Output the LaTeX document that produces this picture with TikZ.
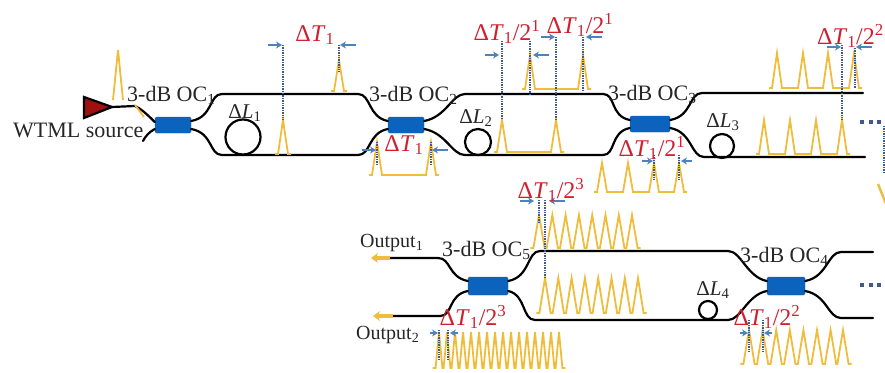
\documentclass[tikz,border=0pt]{standalone}
\usepackage{fontspec}
\setmainfont{Liberation Serif}
\usetikzlibrary{arrows.meta, positioning, calc}
\definecolor{ocblue}{HTML}{0B63BD}
\definecolor{pulseyel}{HTML}{F0BC3C}
\definecolor{gapblue}{HTML}{4F81BD}
\definecolor{dotblue}{HTML}{3F5A8C}
\definecolor{labred}{HTML}{D0202E}
\definecolor{srcred}{HTML}{A01010}
\newcommand{\dT}[1]{Δ\textit{T}\textsubscript{1}/2\textsuperscript{#1}}
\newcommand{\pulses}[6]{\draw[pulse] (#2-#6-3,#5) foreach \x in {#1} {-- (\x-#6,#5) -- (\x,#4) -- (\x+#6,#5)} -- (#3+#6+3,#5);}
\newcommand{\gaparrows}[3]{\draw[gaparrow] (#1-15,#3) -- (#1-1,#3); \draw[gaparrow] (#2+17,#3) -- (#2+1,#3);}
\begin{document}
\begin{tikzpicture}[x=1pt,y=-1pt,
    fiber/.style={line width=2.2pt, black, line cap=round},
    loopfiber/.style={draw=black, line width=2.2pt, circle, inner sep=0pt},
    oc/.style={draw=ocblue, fill=ocblue, rounded corners=1.5pt, minimum width=36pt, minimum height=16pt, inner sep=0pt},
    pulse/.style={pulseyel, line width=1.8pt, line join=miter},
    gaparrow/.style={gapblue, line width=1.3pt, -{Stealth[length=6pt,width=7pt]}},
    gapdots/.style={dotblue, line width=1.4pt, densely dotted},
    dotsrow/.style={dotblue, line width=3.5pt, dash pattern=on 4pt off 4.5pt},
    oclabel/.style={font=\fontsize{22}{24}\selectfont, inner sep=0pt, text=black!85},
    dellabel/.style={font=\fontsize{21}{23}\selectfont, inner sep=0pt, text=black!85},
    outlabel/.style={font=\fontsize{20}{22}\selectfont, inner sep=0pt, text=black!85},
    timelabel/.style={font=\fontsize{24}{26}\selectfont, inner sep=0pt, text=labred},
    outarrow/.style={pulseyel, line width=3.2pt, -{Stealth[length=7pt,width=10pt]}}]
    \useasboundingbox (0,0) rectangle (885,372);
    \clip (0,0) rectangle (885,372);

    \node[oc] (oc1) at (173,125) {};
    \node[oc] (oc2) at (406,125) {};
    \node[oc, minimum width=40pt] (oc3) at (650,124) {};
    \node[oc, minimum width=40pt, minimum height=18pt] (oc5) at (488,286) {};
    \node[oc, minimum width=38pt, minimum height=18pt] (oc4) at (786,286) {};
    \coordinate (tip) at (112,107);

    \draw[fiber, fill=srcred] (84,97) -- (tip) -- (84,118) -- cycle;
    \draw[fiber] (tip) -- (135,106) .. controls +(5,2) and +(-8,-8) .. ([yshift=3pt]oc1.west);
    \draw[fiber] (143,141) .. controls +(2,-4) and +(-6,3) .. ([yshift=-4pt]oc1.west);

    % first row
    \foreach \oca/\ocb/\xa/\xb in {oc1/oc2/222/358, oc2/oc3/465/603} {
        \draw[fiber] ([yshift=4pt]\oca.east) .. controls +(22,-4) and +(-13,0) .. (\xa,94) -- (\xb,94) .. controls +(13,0) and +(-20,-4) .. ([yshift=4pt]\ocb.west);
        \draw[fiber] ([yshift=-4pt]\oca.east) .. controls +(22,4) and +(-13,0) .. (\xa,155) -- (\xb,155) .. controls +(13,0) and +(-20,4) .. ([yshift=-4pt]\ocb.west);
    }
    \draw[fiber] ([yshift=4pt]oc3.east) .. controls +(22,-4) and +(-13,0) .. (702,93) -- (863,93);
    \draw[fiber] ([yshift=-4pt]oc3.east) .. controls +(22,4) and +(-13,0) .. (704,157) -- (865,157);

    % second row
    \draw[fiber] ([yshift=5pt]oc5.west) .. controls +(-20,-4) and +(13,0) .. (438,258) -- (390,258);
    \draw[fiber] ([yshift=-5pt]oc5.west) .. controls +(-20,4) and +(13,0) .. (440,316) -- (393,316);
    \draw[fiber] ([yshift=5pt]oc5.east) .. controls +(22,-4) and +(-13,0) .. (540,251) -- (728,251) .. controls +(13,0) and +(-20,-4) .. ([yshift=5pt]oc4.west);
    \draw[fiber] ([yshift=-5pt]oc5.east) .. controls +(18,4) and +(-13,0) .. (535,320) -- (728,320) .. controls +(13,0) and +(-20,4) .. ([yshift=-5pt]oc4.west);
    \draw[fiber] ([yshift=5pt]oc4.east) .. controls +(22,-4) and +(-13,0) .. (841,252) -- (873,252);
    \draw[fiber] ([yshift=-5pt]oc4.east) .. controls +(22,4) and +(-13,0) .. (841,318) -- (873,318);

    \node[loopfiber, minimum size=35pt] (loop1) at (243,137) {};
    \node[loopfiber, minimum size=26pt] (loop2) at (478,142) {};
    \node[loopfiber, minimum size=24pt] (loop3) at (722,146) {};
    \node[loopfiber, minimum size=18pt] (loop4) at (708,310) {};

    \draw[outarrow] (390,258) -- (371,258);
    \draw[outarrow] (393,316) -- (373,316);

    % pulses
    \draw[pulse] (113,100) -- (118,50) -- (123,100);
    \draw[pulse] (135,105) -- (144,117);
    \pulses{339}{339}{339}{60}{91}{5}
    \pulses{283}{283}{283}{120}{154}{5}
    \pulses{377,431}{377}{431}{142}{175}{5}
    \pulses{530,583}{530}{583}{55}{89}{5}
    \pulses{502,556}{502}{556}{120}{152}{5}
    \pulses{602,628,654,679}{602}{679}{163}{192}{5}
    \pulses{777,803,828,854}{777}{854}{53}{88}{5}
    \pulses{764,790,816,842}{764}{842}{120}{154}{5}
    \pulses{539,552.3,565.6,578.9,592.2,605.5,618.8,632}{539}{632}{215}{248}{5.6}
    \pulses{545,558.3,571.6,584.9,598.2,611.5,624.8,638}{545}{638}{278}{313}{5.6}
    \pulses{439,447,455,463,471,479,487,495,503,511,519,527,535,543,551,559}{439}{559}{332}{368}{3.4}
    \pulses{749,762.6,776.2,789.8,803.4,817,830.6,843}{749}{843}{330}{364}{5.6}

    % gaps
    \foreach \x/\ya/\yb in {283/45/120, 339/45/72, 377/142/165, 431/142/165, 502/41/120, 530/41/96, 556/37/120, 583/37/92,
        654/155/180, 679/155/180, 842/45/120, 855/48/88, 539/200/222, 545/200/278, 439/330/360, 448/330/360, 749/320/352, 763/320/352} {
        \draw[gapdots] (\x,\ya) -- (\x,\yb);
    }
    \gaparrows{283}{339}{45}
    \gaparrows{377}{431}{150}
    \gaparrows{500}{532}{55}
    \gaparrows{556}{585}{37}
    \draw[gaparrow] (642,161) -- (653,161); \draw[gaparrow] (692,161) -- (681,161);
    \gaparrows{842}{855}{47}
    \gaparrows{535}{548}{201}
    \draw[gaparrow] (430,333) -- (438,333); \draw[gaparrow] (458,333) -- (450,333);
    \draw[gaparrow] (740,333) -- (748,333); \draw[gaparrow] (772,333) -- (764,333);

    \draw[dotsrow] (860,122) -- (885,122);
    \draw[dotsrow] (860,285) -- (885,285);
    \draw[gapdots] (884,126) -- (884,172);
    \draw[pulseyel, line width=2.4pt] (878,184) -- (886,204);

    % labels
    \node[oclabel, anchor=west] (lab1) at (127,95) {3-dB OC\textsubscript{1}};
    \node[oclabel, anchor=west] (lab2) at (369,95) {3-dB OC\textsubscript{2}};
    \node[oclabel, anchor=west] (lab3) at (608,94) {3-dB OC\textsubscript{3}};
    \node[oclabel, anchor=west] (lab4) at (740,256) {3-dB OC\textsubscript{4}};
    \node[oclabel, anchor=west] (lab5) at (442,250) {3-dB OC\textsubscript{5}};
    \node[oclabel, anchor=west] (labsrc) at (13,130) {WTML source};
    \node[dellabel] (dl1) at (245,113) {Δ\textit{L}\textsubscript{1}};
    \node[dellabel] (dl2) at (476,118) {Δ\textit{L}\textsubscript{2}};
    \node[dellabel] (dl3) at (723,122) {Δ\textit{L}\textsubscript{3}};
    \node[dellabel] (dl4) at (713,290) {Δ\textit{L}\textsubscript{4}};
    \node[outlabel, anchor=west] (out1) at (360,243) {Output\textsubscript{1}};
    \node[outlabel, anchor=west] (out2) at (356,335) {Output\textsubscript{2}};
    \node[timelabel] (t1) at (315,35) {Δ\textit{T}\textsubscript{1}};
    \node[timelabel] (t2) at (404,145) {Δ\textit{T}\textsubscript{1}};
    \node[timelabel] (t3) at (507,32) {\dT{1}};
    \node[timelabel] (t4) at (580,25) {\dT{1}};
    \node[timelabel] (t5) at (652,148) {\dT{1}};
    \node[timelabel, anchor=east] (t6) at (884,36) {\dT{2}};
    \node[timelabel] (t7) at (551,190) {\dT{3}};
    \node[timelabel] (t8) at (473,317) {\dT{3}};
    \node[timelabel] (t9) at (767,317) {\dT{2}};
\end{tikzpicture}
\end{document}
